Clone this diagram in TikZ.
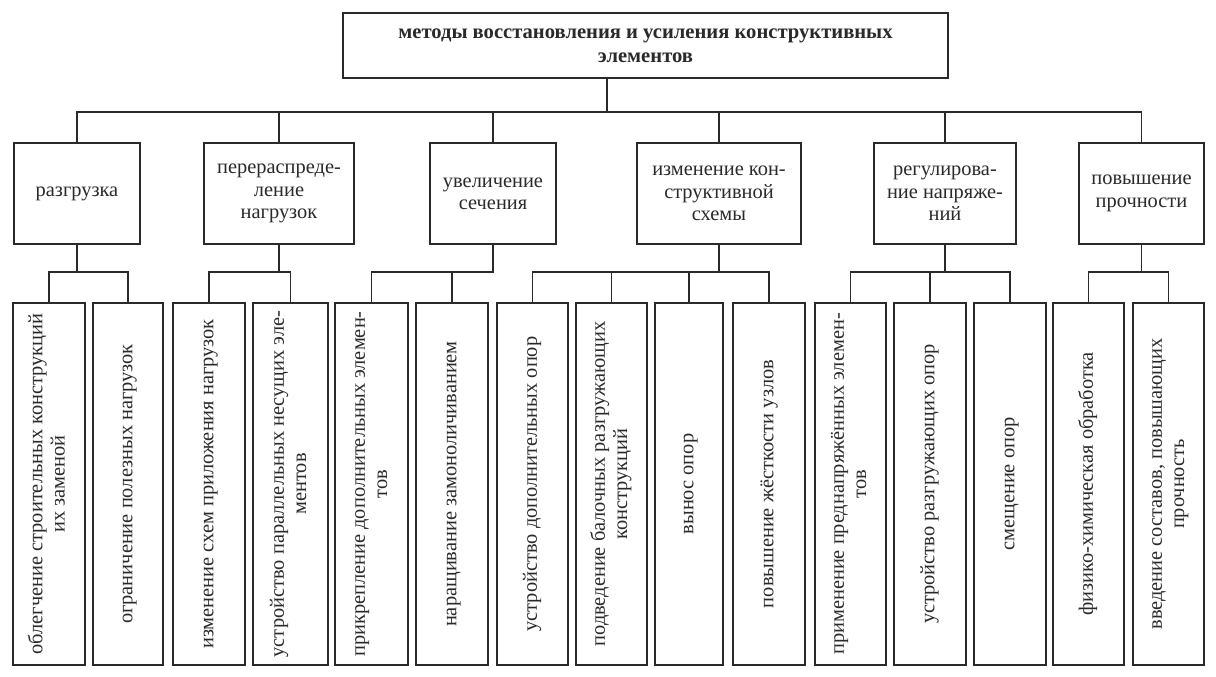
\documentclass[tikz,border=0pt]{standalone}
\usepackage{fontspec}
\setmainfont{Liberation Serif}
\usepackage{graphicx}
\definecolor{ink}{HTML}{2A2A2A}
\newcommand{\vtext}[1]{\rotatebox{90}{\begin{tabular}{@{}c@{}}#1\end{tabular}}}
\begin{document}
\begin{tikzpicture}[x=0.5pt,y=-0.5pt,
  box/.style={draw=ink, line width=0.85pt, inner sep=0pt, align=center, text=ink, font=\fontsize{10.2}{11.2}\selectfont},
  midbox/.style={box, minimum height=50.5pt},
  botbox/.style={box, minimum height=181pt},
  conn/.style={draw=ink, line width=0.75pt},
]
\useasboundingbox[fill=white] (0,0) rectangle (1216,676);
% top
\node[box, minimum width=302.5pt, minimum height=32.5pt, font=\bfseries\fontsize{10.3}{12}\selectfont] (top) at (645.5,45.5) {\raisebox{-2pt}{\begin{tabular}{@{}c@{}}методы восстановления и усиления конструктивных\\элементов\end{tabular}}};
% middle level
\node[midbox, minimum width=63pt]   (m1) at (77,193.5)  {разгрузка};
\node[midbox, minimum width=75pt]   (m2) at (279,193.5) {перераспреде-\\ление\\нагрузок};
\node[midbox, minimum width=63pt]   (m3) at (493,193.5) {увеличение\\сечения};
\node[midbox, minimum width=82pt]   (m4) at (719,193.5) {изменение кон-\\структивной\\схемы};
\node[midbox, minimum width=71pt]   (m5) at (945,193.5) {регулирова-\\ние напряже-\\ний};
\node[midbox, minimum width=62.5pt] (m6) at (1141.5,193.5) {повышение\\прочности};
% bottom level
\node[botbox, minimum width=36pt]   (b1)  at (49,484)    {\vtext{облегчение строительных конструкций\\их заменой}};
\node[botbox, minimum width=35pt]   (b2)  at (128,484)   {\vtext{ограничение полезных нагрузок}};
\node[botbox, minimum width=36pt]   (b3)  at (209,484)   {\vtext{изменение схем приложения нагрузок}};
\node[botbox, minimum width=37.5pt] (b4)  at (290.5,484) {\vtext{устройство параллельных несущих эле-\\ментов}};
\node[botbox, minimum width=36.5pt] (b5)  at (371.5,484) {\vtext{прикрепление дополнительных элемен-\\тов}};
\node[botbox, minimum width=36pt]   (b6)  at (452,484)   {\vtext{наращивание замоноличиванием}};
\node[botbox, minimum width=35.5pt] (b7)  at (532.5,484) {\vtext{устройство дополнительных опор}};
\node[botbox, minimum width=35.5pt] (b8)  at (611.5,484) {\vtext{подведение балочных разгружающих\\конструкций}};
\node[botbox, minimum width=34pt]   (b9)  at (689,484)   {\vtext{вынос опор}};
\node[botbox, minimum width=36pt]   (b10) at (769,484)   {\vtext{повышение жёсткости узлов}};
\node[botbox, minimum width=35.5pt] (b11) at (850.5,484) {\vtext{применение преднапряжённых элемен-\\тов}};
\node[botbox, minimum width=36pt]   (b12) at (930,484)   {\vtext{устройство разгружающих опор}};
\node[botbox, minimum width=36pt]   (b13) at (1010,484)  {\vtext{смещение опор}};
\node[botbox, minimum width=35.5pt] (b14) at (1088.5,484){\vtext{физико-химическая обработка}};
\node[botbox, minimum width=35.5pt] (b15) at (1168.5,484){\vtext{введение составов, повышающих\\прочность}};
% connector levels
\coordinate (stemx) at (607,0);
\coordinate (tb) at (0,112);
\coordinate (sb) at (0,272);
% top tree
\draw[conn] (top.south -| stemx) -- (stemx |- tb);
\draw[conn] (m1.north) -- (m1.north |- tb) -- (m6.north |- tb) -- (m6.north);
\draw[conn] (m2.north) -- (m2.north |- tb);
\draw[conn] (m3.north) -- (m3.north |- tb);
\draw[conn] (m4.north) -- (m4.north |- tb);
\draw[conn] (m5.north) -- (m5.north |- tb);
% group 1
\draw[conn] (m1.south) -- (m1.south |- sb);
\draw[conn] (b1.north) -- (b1.north |- sb) -- (b2.north |- sb) -- (b2.north);
% group 2
\draw[conn] (m2.south) -- (m2.south |- sb);
\draw[conn] (b3.north) -- (b3.north |- sb) -- (b4.north |- sb) -- (b4.north);
% group 3
\draw[conn] (b5.north) -- (b5.north |- sb) -- (m3.south |- sb) -- (m3.south);
\draw[conn] (b6.north) -- (b6.north |- sb);
% group 4
\draw[conn] (m4.south) -- (m4.south |- sb);
\draw[conn] (b7.north) -- (b7.north |- sb) -- (b10.north |- sb) -- (b10.north);
\draw[conn] (b8.north) -- (b8.north |- sb);
\draw[conn] (b9.north) -- (b9.north |- sb);
% group 5
\draw[conn] (m5.south) -- (m5.south |- sb);
\draw[conn] (b11.north) -- (b11.north |- sb) -- (b13.north |- sb) -- (b13.north);
\draw[conn] (b12.north) -- (b12.north |- sb);
% group 6
\draw[conn] (m6.south) -- (m6.south |- sb);
\draw[conn] (b14.north) -- (b14.north |- sb) -- (b15.north |- sb) -- (b15.north);
\end{tikzpicture}
\end{document}
